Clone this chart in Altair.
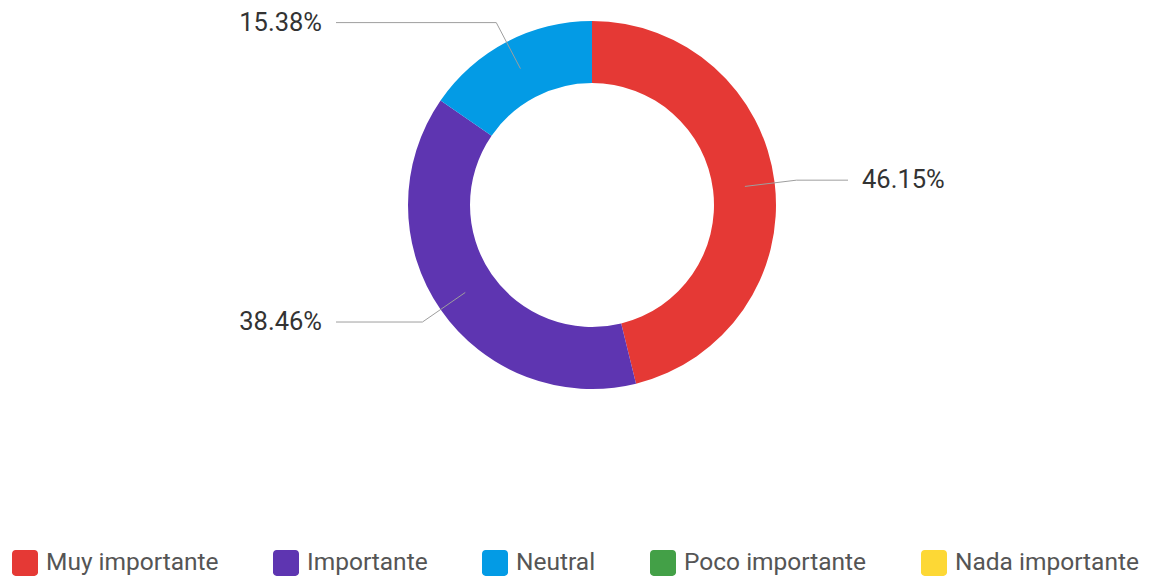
import altair as alt
import pandas as pd

categories = ["Muy importante", "Importante", "Neutral", "Poco importante", "Nada importante"]
counts = [6, 5, 2, 0, 0]
colors = ["#e53935", "#5e35b1", "#039be5", "#43a047", "#fdd835"]

df = pd.DataFrame({"cat": categories, "count": counts, "ord": list(range(len(categories)))})

CX, CY = 584, 197
R_OUT, R_IN = 184, 122
R1, R2 = 154, 206
XLINE, XLABEL = 256, 270

base = alt.Chart(df)

arc = base.mark_arc(outerRadius=R_OUT, innerRadius=R_IN, stroke=None).encode(
    theta=alt.Theta("count:Q", stack=True),
    color=alt.Color(
        "cat:N",
        scale=alt.Scale(domain=categories, range=colors),
        legend=alt.Legend(
            orient="none", direction="horizontal", legendX=4, legendY=542,
            title=None, symbolType="M -1 -0.72 A 0.28 0.28 0 0 1 -0.72 -1 L 0.72 -1 A 0.28 0.28 0 0 1 1 -0.72 L 1 0.72 A 0.28 0.28 0 0 1 0.72 1 L -0.72 1 A 0.28 0.28 0 0 1 -1 0.72 Z",
            symbolSize=676, symbolStrokeWidth=0, symbolOpacity=1,
            labelFont="Roboto", labelFontSize=24.5, labelColor="#555555",
            labelOffset=8, columnPadding=53, labelLimit=400,
        ),
    ),
    order=alt.Order("ord:Q"),
    x=alt.value(CX),
    y=alt.value(CY),
)

geo = base.transform_joinaggregate(total="sum(count)").transform_window(
    cum="sum(count)", sort=[alt.SortField("ord")]
).transform_filter("datum.count > 0").transform_calculate(
    a=f"2*PI*(datum.cum - datum.count/2)/datum.total",
).transform_calculate(
    side="sin(datum.a) >= 0 ? 1 : -1",
    x1=f"{CX} + {R1}*sin(datum.a)",
    y1=f"{CY} - {R1}*cos(datum.a)",
    x2=f"{CX} + {R2}*sin(datum.a)",
    y2=f"{CY} - {R2}*cos(datum.a)",
    pct="format(datum.count/datum.total, '.2%')",
).transform_calculate(
    x3=f"{CX} + {XLINE}*datum.side",
    xl=f"{CX} + {XLABEL}*datum.side",
)

seg1 = geo.mark_rule(color="#9e9e9e", strokeWidth=1).encode(
    x=alt.X("x1:Q", scale=None, axis=None),
    y=alt.Y("y1:Q", scale=None, axis=None),
    x2="x2:Q",
    y2="y2:Q",
)
seg2 = geo.mark_rule(color="#9e9e9e", strokeWidth=1).encode(
    x=alt.X("x2:Q", scale=None, axis=None),
    y=alt.Y("y2:Q", scale=None, axis=None),
    x2="x3:Q",
    y2="y2:Q",
)

txt_r = geo.transform_filter("datum.side > 0").mark_text(
    align="left", baseline="middle", font="Roboto", fontSize=25.5, color="#333333"
).encode(
    x=alt.X("xl:Q", scale=None, axis=None),
    y=alt.Y("y2:Q", scale=None, axis=None),
    text="pct:N",
)
txt_l = geo.transform_filter("datum.side < 0").mark_text(
    align="right", baseline="middle", font="Roboto", fontSize=25.5, color="#333333"
).encode(
    x=alt.X("xl:Q", scale=None, axis=None),
    y=alt.Y("y2:Q", scale=None, axis=None),
    text="pct:N",
)

chart = alt.layer(arc, seg1, seg2, txt_r, txt_l).properties(
    width=1135, height=572, padding=0,
    autosize=alt.AutoSizeParams(type="none"),
).configure_view(stroke=None)

chart.save("out.html", embed_options={"renderer": "svg", "actions": False})
